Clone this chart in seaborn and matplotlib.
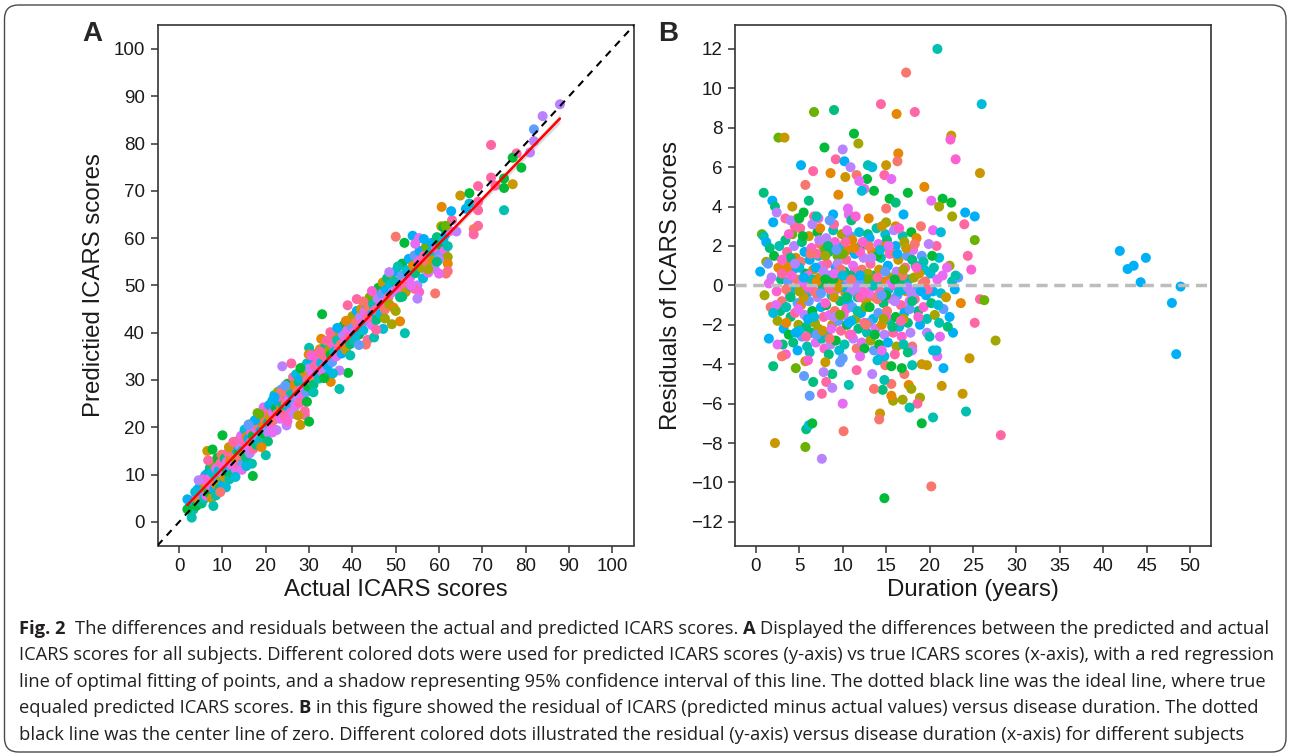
import matplotlib
matplotlib.use("Agg")
import matplotlib.pyplot as plt
import seaborn as sns
import pandas as pd
from matplotlib.patches import FancyBboxPatch
from matplotlib import font_manager

# ---------------- panel A: actual vs predicted ICARS ----------------
a_actual = [
    # low range
    2.5, 3.0, 3.3, 3.8, 4.0, 4.2, 4.5, 4.8, 5.0, 5.2, 5.4,
    5.5, 5.8, 6.0, 6.1, 6.3, 6.5, 6.6, 6.8, 7.0, 7.1, 7.3,
    7.5, 7.6, 7.8, 8.0, 8.1, 8.3, 8.5, 8.6, 8.8, 9.0, 9.1,
    9.3, 9.5, 9.6, 9.8, 10.0, 10.1, 10.3, 10.5, 10.6, 10.8, 11.0,
    11.1, 11.3, 11.5, 11.6, 11.8, 12.0, 12.1, 12.3, 12.5, 12.6, 12.8,
    13.0, 13.1, 13.3, 13.5, 13.6, 13.8, 14.0, 14.1, 14.3, 14.5, 14.6,
    14.8, 15.0, 15.1, 15.3, 15.5, 15.6, 15.8, 16.0, 16.1, 16.3, 16.5,
    16.6, 16.8, 17.0, 17.1, 17.3, 17.5, 17.6, 17.8, 18.0, 18.1, 18.3,
    18.5, 18.6, 18.8, 19.0, 19.1, 19.3, 19.5, 19.6, 19.8, 20.0,
    # 20-30
    20.3, 20.5, 20.6, 20.8, 21.0, 21.3, 21.5, 21.6, 21.8, 22.0,
    22.3, 22.5, 22.6, 22.8, 23.0, 23.3, 23.5, 23.6, 23.8, 24.0,
    24.3, 24.5, 24.6, 24.8, 25.0, 25.3, 25.5, 25.6, 25.8, 26.0,
    26.3, 26.5, 26.6, 26.8, 27.0, 27.3, 27.5, 27.6, 27.8, 28.0,
    28.3, 28.5, 28.6, 28.8, 29.0, 29.3, 29.5, 29.6, 29.8, 30.0,
    # 30-40
    30.3, 30.5, 30.8, 31.0, 31.3, 31.5, 31.8, 32.0, 32.3, 32.5,
    32.8, 33.0, 33.3, 33.5, 33.8, 34.0, 34.3, 34.5, 34.8, 35.0,
    35.3, 35.5, 35.8, 36.0, 36.3, 36.5, 36.8, 37.0, 37.3, 37.5,
    37.8, 38.0, 38.3, 38.5, 38.8, 39.0, 39.3, 39.5, 39.8, 40.0,
    # 40-50
    40.3, 40.5, 40.8, 41.0, 41.3, 41.5, 41.8, 42.0, 42.3, 42.5,
    42.8, 43.0, 43.3, 43.5, 43.8, 44.0, 44.3, 44.5, 44.8, 45.0,
    45.3, 45.5, 45.8, 46.0, 46.3, 46.5, 46.8, 47.0, 47.3, 47.5,
    47.8, 48.0, 48.3, 48.5, 48.8, 49.0, 49.3, 49.5, 49.8, 50.0,
    # 50-63
    50.5, 51.0, 51.3, 51.5, 52.0, 52.3, 52.5, 53.0, 53.3, 53.5,
    54.0, 54.3, 54.5, 55.0, 55.3, 55.5, 56.0, 56.3, 56.5, 57.0,
    57.3, 57.5, 58.0, 58.3, 58.5, 59.0, 59.3, 59.5, 60.0, 60.3,
    60.5, 61.0, 61.3, 61.5, 62.0, 62.0, 62.5, 63.0,
    # scattered / high points
    2.9, 1.9, 1.9, 3.7, 7.9, 17.0, 20.0, 10.0, 6.5, 7.7,
    6.7, 28.0, 29.0, 29.0, 30.0, 33.0, 37.0, 39.0, 37.0, 23.8,
    25.9, 30.0, 32.8, 34.9, 29.9, 34.8, 35.0, 38.9, 41.0, 40.7,
    43.1, 43.4, 45.0, 47.1, 49.1, 51.0, 50.0, 52.1, 50.0, 53.9,
    52.0, 55.4, 59.1, 54.3, 55.4, 55.0, 62.0, 62.0, 61.6, 60.0,
    60.0, 60.6, 64.9, 67.0, 62.8, 64.0, 61.0, 61.5, 66.2, 67.0,
    69.0, 69.0, 69.0, 69.0, 68.0, 68.0, 72.0, 72.0, 73.0, 75.0,
    75.0, 77.0, 75.0, 77.9, 77.0, 79.0, 81.0, 81.9, 81.9, 83.9, 87.9,
    # extra spread along the diagonal
    5.5, 8.5, 11.5, 14.5, 17.5, 20.5, 23.5, 26.5, 29.5, 32.5,
    35.5, 38.5, 41.5, 44.5, 47.5, 50.5, 53.5, 56.5, 59.5,
    4.5, 9.5, 12.5, 15.5, 18.5, 21.5, 24.5, 27.5, 30.5, 33.5,
    36.5, 39.5, 42.5, 45.5, 48.5, 51.5, 54.5, 57.5,
    13.0, 16.0, 19.0, 22.0, 25.0, 28.0, 31.0, 34.0,
]
a_predicted = [
    3.5, 4.2, 2.6, 5.0, 3.4, 6.8, 4.6, 7.5, 5.6, 3.9, 8.6,
    6.3, 4.9, 9.8, 7.2, 5.5, 10.2, 8.0, 6.2, 9.1, 11.4, 7.4,
    5.0, 10.5, 8.6, 12.0, 6.9, 9.7, 11.3, 7.8, 13.5, 9.2, 10.8,
    7.1, 12.4, 8.7, 14.2, 10.3, 8.0, 11.9, 13.4, 9.4, 7.3, 12.7,
    10.6, 14.6, 11.2, 9.0, 13.0, 15.5, 11.8, 10.2, 14.0, 12.6, 16.4,
    13.2, 11.0, 15.1, 17.1, 12.3, 14.6, 16.0, 13.4, 18.2, 15.0, 12.2,
    17.0, 14.3, 19.5, 16.5, 13.5, 18.0, 15.6, 17.6, 20.6, 14.5, 16.8,
    19.0, 12.3, 18.2, 15.4, 21.2, 17.3, 19.8, 16.3, 20.4, 23.0, 18.0,
    17.0, 21.6, 19.2, 22.4, 17.8, 20.8, 24.2, 18.6, 21.9, 19.6,
    23.3, 21.0, 18.8, 24.7, 22.2, 20.3, 25.6, 23.1, 21.5, 26.8,
    24.0, 19.4, 22.8, 27.5, 25.1, 21.8, 23.9, 28.0, 26.2, 24.7,
    22.5, 27.1, 25.3, 20.4, 29.2, 26.0, 24.0, 28.3, 23.2, 27.0,
    30.6, 25.8, 28.9, 24.4, 31.2, 27.6, 26.0, 29.6, 25.2, 30.3,
    28.0, 32.6, 26.8, 29.4, 31.5, 27.4, 33.5, 30.1, 28.6, 32.4,
    30.0, 34.5, 31.6, 29.0, 33.0, 35.5, 31.2, 34.0, 30.3, 36.5,
    33.6, 31.8, 35.2, 32.8, 37.3, 34.6, 33.0, 36.2, 38.2, 35.3,
    33.8, 37.6, 36.0, 39.4, 35.0, 38.4, 36.7, 40.8, 37.5, 35.6,
    39.6, 41.6, 38.2, 36.4, 40.5, 42.3, 39.1, 37.6, 41.2, 43.5,
    40.0, 38.3, 42.2, 44.6, 41.0, 39.6, 43.4, 45.0, 42.0, 40.5,
    44.5, 46.3, 42.6, 38.5, 45.3, 47.5, 43.7, 41.6, 46.0, 48.6,
    44.8, 42.7, 47.2, 49.5, 45.5, 44.0, 48.3, 50.6, 46.4, 44.9,
    49.1, 51.5, 47.5, 46.0, 50.2, 52.4, 48.6, 45.3, 50.8, 53.0,
    49.4, 47.5, 52.0, 54.6, 50.5, 48.6, 53.2, 55.6, 51.6, 49.8,
    54.2, 56.3, 52.6, 50.0, 55.1, 57.3, 53.7, 51.5, 56.2, 58.2,
    54.6, 52.7, 57.0, 59.0, 55.3, 53.5, 57.8, 60.2, 56.3, 58.6,
    62.5, 59.7, 57.4, 60.8, 58.3, 56.0, 61.5, 63.8,
    0.9, 2.65, 4.77, 6.3, 3.36, 9.7, 14.1, 18.3, 15.0, 15.3,
    13.0, 20.5, 23.4, 22.6, 21.2, 43.9, 28.1, 31.5, 32.0, 32.9,
    33.5, 36.8, 38.7, 40.1, 35.4, 31.3, 29.6, 45.8, 47.1, 39.4,
    37.5, 43.2, 39.0, 40.8, 41.8, 42.4, 44.6, 39.9, 60.3, 60.5,
    59.0, 60.0, 48.3, 49.3, 48.6, 47.2, 54.6, 53.0, 52.5, 55.5,
    52.5, 66.6, 69.0, 69.5, 65.7, 61.4, 62.3, 62.6, 66.2, 67.3,
    71.0, 67.7, 65.9, 62.6, 61.9, 60.8, 79.7, 72.8, 71.1, 72.6,
    70.6, 71.4, 65.9, 77.9, 77.0, 74.9, 78.1, 80.5, 83.0, 85.8, 88.3,
    9.0, 5.6, 15.8, 11.0, 21.5, 17.0, 27.3, 22.8, 25.4, 36.0,
    31.4, 42.5, 37.4, 48.8, 43.0, 54.0, 50.0, 59.8, 55.0,
    8.8, 6.3, 16.9, 11.8, 22.8, 18.9, 28.8, 22.5, 35.2, 30.4,
    41.0, 35.2, 46.6, 40.6, 52.8, 47.6, 58.8, 53.4,
    9.5, 20.5, 15.8, 26.4, 21.3, 32.5, 27.4, 38.3,
]
a_subject = [
    6, 9, 7, 12, 5, 8, 2, 9, 14, 6, 1,
    10, 7, 8, 3, 12, 9, 0, 5, 11, 6, 13,
    2, 8, 14, 4, 9, 7, 12, 1, 5, 10, 8,
    6, 14, 3, 0, 11, 9, 13, 6, 2, 8, 12,
    5, 14, 9, 7, 1, 10, 13, 6, 0, 11, 8,
    3, 12, 9, 2, 14, 5, 11, 0, 12, 7, 10,
    13, 4, 8, 14, 6, 1, 12, 9, 3, 11, 0,
    13, 7, 5, 14, 2, 10, 12, 6, 0, 4, 11,
    8, 14, 9, 13, 7, 1, 12, 5, 0, 10,
    14, 6, 11, 9, 2, 13, 8, 12, 0, 7,
    5, 11, 14, 3, 9, 12, 1, 10, 13, 6,
    14, 8, 0, 11, 5, 12, 9, 2, 13, 7,
    14, 10, 1, 12, 8, 0, 11, 6, 14, 9,
    12, 3, 13, 7, 2, 10, 8, 14, 5, 11,
    0, 9, 12, 6, 14, 1, 10, 13, 7, 2,
    8, 12, 0, 11, 6, 14, 9, 3, 12, 5,
    10, 13, 8, 1, 12, 7, 14, 6, 0, 9,
    11, 5, 13, 2, 12, 8, 14, 6, 10, 3,
    12, 7, 0, 9, 14, 5, 11, 2, 13, 8,
    12, 6, 10, 14, 0, 4, 9, 12, 7, 3,
    14, 6, 11, 5, 13, 8, 10, 2, 12, 0,
    9, 6, 14, 3, 8, 4, 11, 1, 7, 9,
    13, 6, 10, 5, 14, 2, 8, 9, 12, 7,
    1, 10, 6, 11, 13, 9, 3, 8, 14, 4,
    0, 12, 7, 9, 2, 11, 13, 6, 10, 5,
    3, 8, 12, 9, 7, 3, 13, 14,
    7, 5, 9, 8, 7, 5, 7, 5, 2, 5,
    14, 2, 14, 14, 5, 5, 7, 5, 11, 11,
    14, 7, 1, 14, 1, 9, 1, 14, 14, 8,
    0, 14, 7, 8, 3, 1, 3, 7, 0, 9,
    5, 12, 0, 14, 13, 11, 1, 14, 0, 11,
    12, 1, 2, 5, 9, 11, 5, 4, 9, 8,
    14, 14, 14, 14, 0, 14, 14, 14, 14, 5,
    5, 2, 7, 14, 5, 5, 11, 11, 10, 11, 11,
    13, 7, 2, 12, 9, 6, 0, 11, 5, 14,
    8, 1, 10, 13, 3, 7, 12, 9, 6,
    11, 0, 14, 8, 4, 12, 10, 2, 13, 5,
    9, 7, 0, 14, 11, 6, 12, 3,
    8, 10, 1, 9, 13, 5, 7, 14,
]

# ---------------- panel B: residuals vs disease duration ----------------
b_duration = [
    # high residuals
    20.9, 17.3, 26.0, 14.4, 16.2, 18.3, 6.7, 9.0, 2.6, 3.3,
    11.3, 11.8, 22.5, 22.4, 7.9, 10.0, 16.4, 16.3, 23.0, 9.2,
    10.2, 5.2, 12.9, 13.4, 6.6, 8.6, 10.9, 11.6, 15.0, 25.8,
    14.8, 15.6, 10.3, 12.8, 11.9, 5.7, 9.5, 13.6, 12.5, 12.2,
    19.4, 17.5, 0.9, 15.4, 16.1, 21.5, 22.5, 20.2, 21.1, 1.9,
    2.2, 6.1, 4.2, 15.0, 10.6, 8.9, 22.6, 24.1, 25.2, 24.0,
    2.4, 6.7, 7.2, 10.7, 4.8, 3.4, 16.1, 20.4, 21.3, 25.2,
    24.4, 22.3, 24.8, 20.8, 21.1, 0.5, 1.2, 0.7, 0.9,
    # low residuals
    1.7, 1.5, 2.0, 2.2, 5.7, 5.8, 6.1, 6.5, 7.6, 10.1,
    10.0, 14.8, 20.2, 28.2, 19.1, 20.4, 24.2, 23.8, 21.4, 24.6,
    27.6, 25.2, 25.8, 26.3, 21.6, 22.7, 21.2, 20.9, 20.4, 20.8,
    19.1, 19.7, 18.0, 18.9, 18.6, 17.7, 17.6, 17.9, 16.9, 15.8,
    15.6, 14.3, 14.2, 17.1, 16.8, 15.6, 14.6, 13.6, 14.8, 13.4,
    11.6, 10.7, 14.3, 14.9, 15.6, 7.6, 6.6, 8.1, 8.8, 6.2,
    5.55, 4.6, 3.45, 8.8, 7.8, 5.7, 9.7, 18.0, 14.8,
    # long duration
    41.9, 42.8, 43.5, 44.9, 44.3, 47.9, 48.4, 48.9,
    # dense core
    1.2, 1.6, 2.1, 2.6, 2.9, 1.8, 2.4, 3.0, 2.8, 2.5, 3.2,
    3.4, 3.6, 3.9, 3.3, 3.7, 3.9, 3.5, 4.0, 3.8, 3.1,
    4.2, 4.4, 4.6, 4.3, 4.7, 4.4, 4.8, 4.5, 4.9, 4.3, 4.8,
    5.1, 5.3, 5.6, 5.2, 5.7, 5.4, 5.9, 5.2, 5.6, 5.8, 5.3, 5.9,
    6.1, 6.4, 6.2, 6.6, 6.3, 6.7, 6.1, 6.5, 6.8, 6.4, 6.9, 6.2,
    7.1, 7.4, 7.2, 7.6, 7.3, 7.7, 7.1, 7.5, 7.8, 7.2, 7.6, 7.9, 7.4, 7.9,
    8.1, 8.4, 8.2, 8.6, 8.3, 8.7, 8.1, 8.5, 8.8, 8.2, 8.6, 8.9, 8.4,
    9.1, 9.4, 9.2, 9.6, 9.3, 9.7, 9.1, 9.5, 9.8, 9.2, 9.6, 9.9, 9.4,
    10.1, 10.4, 10.2, 10.6, 10.3, 10.7, 10.1, 10.5, 10.8, 10.2, 10.9, 10.6, 10.4,
    11.1, 11.4, 11.2, 11.6, 11.3, 11.7, 11.1, 11.5, 11.8, 11.2, 11.6, 11.9, 11.4,
    12.1, 12.4, 12.2, 12.6, 12.3, 12.7, 12.1, 12.5, 12.8, 12.2, 12.9, 12.6,
    13.1, 13.4, 13.2, 13.6, 13.3, 13.7, 13.1, 13.5, 13.8, 13.2, 13.6, 13.9,
    14.1, 14.4, 14.2, 14.6, 14.3, 14.7, 14.1, 14.5, 14.8, 14.2, 14.9,
    15.1, 15.4, 15.2, 15.6, 15.3, 15.7, 15.1, 15.5, 15.8, 15.2, 15.9,
    16.1, 16.4, 16.2, 16.6, 16.3, 16.7, 16.1, 16.5, 16.8, 16.2, 16.9,
    17.1, 17.4, 17.2, 17.6, 17.3, 17.7, 17.1, 17.5, 17.8, 17.9,
    18.1, 18.4, 18.2, 18.6, 18.3, 18.7, 18.9, 18.5, 19.1, 19.4, 19.2, 19.6, 19.3, 19.7, 19.9,
    20.1, 20.4, 20.2, 20.6, 20.9, 21.3, 21.6, 21.1, 21.9, 22.3, 22.6, 22.9, 23.3, 23.6, 22.1, 23.0,
    3.6, 4.1, 5.0, 5.5, 6.0, 6.9, 7.0, 7.8, 8.0, 8.9, 9.0, 9.8, 10.0, 10.9, 11.0,
    11.9, 12.0, 12.9, 13.0, 13.9, 14.0, 14.9, 15.0, 15.9, 16.0, 16.9, 17.0, 17.9, 18.8, 19.8,
    4.0, 4.9, 6.0, 7.0, 8.0, 9.0, 10.0, 11.0, 12.0, 13.0, 14.0, 15.0, 16.0, 17.0, 18.0,
    3.0, 5.0, 7.0, 9.0, 11.0, 13.0, 15.0, 17.0, 8.5, 10.5, 12.5, 14.5, 16.5, 6.5, 4.5,
    1.0, 1.4, 2.3, 2.7, 3.5, 3.8, 4.6, 5.4, 5.8, 6.3,
    6.7, 7.3, 7.7, 8.3, 8.7, 9.3, 9.7, 10.3, 10.7, 11.3,
    11.7, 12.3, 12.7, 13.3, 13.7, 14.3, 14.7, 15.3, 15.7, 16.3,
    16.7, 17.3, 17.7, 18.3, 18.7, 19.3, 19.7, 20.3, 21.0, 22.0,
    1.5, 2.0, 3.0, 3.5, 4.0, 4.5, 5.0, 5.5, 6.0, 6.5,
    7.0, 7.5, 8.0, 8.5, 9.0, 9.5, 10.0, 10.5, 11.0, 11.5,
    12.0, 12.5, 13.0, 13.5, 14.0, 14.5, 15.0, 15.5, 16.0, 16.5,
    17.0, 17.5, 18.0, 18.5, 19.0, 19.5, 20.5, 21.5,
    2.0, 3.0, 4.0, 5.0, 6.0, 7.0, 8.0, 9.0, 10.0, 11.0,
    12.0, 13.0, 14.0, 15.0, 16.0, 17.0, 18.0, 19.0, 20.0,
    2.5, 5.5, 8.5, 11.5, 14.5, 17.5,
]
b_residual = [
    12.0, 10.8, 9.2, 9.2, 8.7, 8.8, 8.8, 8.9, 7.5, 7.5,
    7.7, 7.2, 7.6, 7.4, 7.0, 6.9, 6.7, 6.3, 6.4, 6.4,
    6.3, 6.1, 6.1, 6.0, 5.8, 5.7, 6.0, 5.6, 6.1, 5.7,
    5.6, 5.4, 5.5, 5.4, 5.3, 5.1, 4.6, 4.8, 4.9, 4.8,
    5.0, 4.7, 4.7, 4.4, 4.2, 4.4, 4.2, 4.3, 4.0, 4.3,
    4.0, 4.3, 4.0, 3.9, 3.9, 3.6, 3.5, 3.7, 3.5, 3.1,
    3.7, 3.5, 3.4, 3.6, 3.4, 3.4, 3.0, 2.8, 2.7, 2.3,
    1.5, 1.0, 0.8, 2.0, 1.4, 0.7, 1.2, 2.6, 2.5,
    -1.1, -2.7, -4.1, -8.0, -8.2, -7.3, -7.1, -7.0, -8.8, -7.4,
    -6.0, -10.8, -10.2, -7.6, -7.0, -6.7, -6.4, -5.5, -5.1, -3.7,
    -2.8, -1.9, -0.7, -0.75, -4.2, -2.4, -2.6, -3.6, -3.3, -3.3,
    -4.0, -4.05, -4.05, -5.7, -6.0, -6.2, -5.05, -5.25, -5.8, -5.85,
    -5.6, -6.5, -6.8, -4.5, -4.2, -5.0, -5.3, -5.25, -4.8, -4.5,
    -4.3, -5.05, -3.7, -4.05, -4.1, -5.5, -4.9, -4.9, -5.2, -5.6,
    -4.6, -4.2, -3.5, -4.5, -4.4, -3.85, -3.9, -3.1, -3.6,
    1.75, 0.83, 1.0, 1.4, 0.16, -0.89, -3.49, -0.06,
    2.2, 1.9, 1.5, 0.9, 0.3, 0.4, -0.3, -0.8, -1.3, -1.8, -2.2,
    2.3, 1.7, 1.1, 0.7, 0.2, -0.5, -1.1, -1.6, -2.5, -3.0,
    2.6, 2.0, 1.4, 0.8, 0.3, -0.2, -0.9, -1.4, -2.0, -2.9, -3.3,
    2.9, 2.2, 1.7, 1.2, 0.6, 0.1, -0.4, -1.0, -1.5, -2.1, -2.6, -3.1,
    2.5, 1.9, 1.3, 0.8, 0.2, -0.3, -0.8, -1.3, -1.9, -2.4, -2.9, -3.4,
    2.7, 2.1, 1.5, 1.0, 0.4, -0.1, -0.6, -1.1, -1.6, -2.2, -2.7, -3.2, 2.9, 1.8,
    2.4, 1.7, 1.1, 0.5, 0.0, -0.5, -1.0, -1.5, -2.0, -2.5, -3.0, 2.8, -3.5,
    2.2, 1.5, 0.9, 0.3, -0.2, -0.8, -1.3, -1.8, -2.3, -2.8, -3.3, 2.6, 1.1,
    2.0, 1.3, 0.7, 0.1, -0.4, -0.9, -1.5, -2.0, -2.5, -3.0, 2.5, 1.8, -1.2,
    2.3, 1.6, 1.0, 0.4, -0.1, -0.6, -1.1, -1.7, -2.2, -2.7, -3.2, 2.7, 0.7,
    2.0, 1.4, 0.8, 0.2, -0.3, -0.8, -1.4, -1.9, -2.4, -2.9, 2.6, -1.1,
    2.4, 1.7, 1.1, 0.5, -0.1, -0.6, -1.1, -1.7, -2.2, -2.8, -3.3, 2.9,
    2.1, 1.4, 0.8, 0.2, -0.3, -0.9, -1.4, -2.0, -2.5, -3.0, 2.6,
    2.3, 1.6, 1.0, 0.4, -0.2, -0.7, -1.3, -1.8, -2.4, -2.9, 2.8,
    2.0, 1.3, 0.7, 0.1, -0.5, -1.0, -1.6, -2.1, -2.6, -3.1, 2.5,
    2.2, 1.5, 0.9, 0.3, -0.3, -0.8, -1.4, -1.9, -2.4, 2.7,
    1.8, 1.0, 0.4, -0.2, -0.7, -1.3, -2.0, 2.4, 1.5, 0.8, 0.1, -0.5, -1.1, -1.7, 2.1,
    0.6, -0.3, -0.9, -1.5, 0.3, -0.4, -1.2, -1.9, -0.6, -1.6, 0.2, -0.2, 0.4, -0.9, -2.1, 0.5,
    0.9, 0.5, 0.9, -0.6, 0.5, 0.9, -0.4, 0.7, -0.9, 0.3, -0.6, 0.8, -0.1, 0.5, -0.3,
    0.1, -0.6, 0.6, -0.4, 0.2, -0.7, 0.7, -0.5, 0.0, -0.8, 0.5, -0.2, -0.4, 0.6, -0.2,
    1.4, -1.2, -1.7, 1.6, 1.5, -1.6, 1.6, -1.8, 1.7, -1.9, 1.5, -1.6, 1.6, -1.7, 1.3,
    1.3, -2.3, -2.5, 2.0, -2.5, 2.0, 2.0, -3.0, -2.7, 2.8, -3.2, -3.3, 2.9, 3.1, 3.0,
    -0.5, 1.1, -1.0, 2.0, -1.9, 2.6, -2.4, 2.5, -2.6, 1.6,
    -1.6, 2.3, -2.3, 2.0, -2.2, 1.8, -1.5, 2.2, -1.9, 1.9,
    -1.3, 2.2, -2.0, 1.4, -2.5, 1.8, -1.7, 2.0, -2.1, 1.6,
    -1.8, 1.9, -1.2, 2.1, -1.6, 1.2, -2.4, 1.5, -1.0, 0.9,
    0.1, -1.4, 0.6, -0.2, -0.6, 1.1, -0.3, 0.4, -0.1, 0.3,
    0.2, -0.4, 0.3, -0.2, 0.6, -0.1, 0.5, -0.6, 0.3, -0.1,
    0.5, -0.4, 0.3, 0.0, 0.4, -0.5, 0.2, 0.1, 0.3, -0.3,
    0.8, -0.1, -0.8, 0.9, -0.3, 0.2, 0.9, 0.5,
    3.2, -3.6, 3.3, 3.4, -3.8, 3.5, -3.9, 3.1, -3.7, 3.3,
    -3.6, 3.4, -3.8, 3.2, -3.5, 3.6, -3.3, 3.0, -2.6,
    -3.0, 3.7, 3.3, 3.5, 3.0, -3.4,
]
b_subject = [
    7, 0, 8, 14, 1, 14, 4, 6, 4, 2,
    5, 3, 2, 13, 5, 11, 1, 0, 13, 14,
    9, 9, 7, 8, 14, 1, 11, 0, 2, 2,
    14, 12, 2, 5, 12, 0, 1, 5, 12, 8,
    1, 5, 6, 5, 6, 5, 5, 12, 3, 9,
    6, 6, 2, 0, 12, 9, 3, 9, 9, 14,
    11, 14, 12, 12, 3, 14, 1, 12, 8, 4,
    14, 3, 13, 14, 8, 9, 3, 4, 7,
    0, 9, 6, 2, 4, 6, 8, 5, 11, 0,
    12, 5, 0, 14, 5, 7, 7, 2, 2, 2,
    3, 14, 14, 4, 9, 9, 12, 12, 8, 8,
    2, 2, 7, 3, 14, 7, 1, 3, 3, 3,
    1, 2, 0, 0, 5, 0, 6, 0, 7, 11,
    14, 7, 9, 0, 5, 14, 6, 14, 11, 10,
    10, 4, 13, 6, 11, 2, 10, 0, 8,
    9, 9, 9, 9, 9, 9, 9, 9,
    9, 6, 5, 1, 6, 11, 13, 0, 6, 3, 9,
    6, 14, 0, 2, 10, 12, 7, 6, 5, 6,
    4, 11, 1, 9, 0, 8, 10, 14, 3, 6, 9,
    14, 6, 9, 0, 5, 12, 8, 1, 11, 6, 10, 7,
    2, 13, 9, 1, 7, 14, 10, 5, 3, 6, 12, 7,
    5, 0, 8, 12, 2, 6, 11, 9, 14, 3, 7, 13, 1, 4,
    11, 6, 14, 10, 0, 8, 5, 12, 2, 9, 11, 7, 6,
    13, 4, 9, 1, 12, 6, 0, 10, 14, 5, 8, 3, 11,
    8, 14, 6, 11, 2, 9, 12, 5, 0, 7, 10, 1, 13,
    1, 9, 12, 5, 14, 7, 10, 3, 6, 11, 0, 8, 13,
    5, 11, 0, 8, 13, 2, 9, 14, 7, 12, 6, 4,
    9, 1, 14, 6, 11, 0, 5, 8, 12, 3, 10, 7,
    12, 7, 2, 9, 14, 6, 10, 1, 11, 5, 8,
    6, 13, 9, 3, 8, 12, 0, 7, 14, 9, 11,
    9, 2, 11, 6, 10, 14, 5, 8, 13, 3, 7,
    3, 10, 14, 7, 1, 12, 9, 6, 11, 5,
    12, 8, 3, 10, 14, 6, 9, 1, 10, 8, 0, 9, 13, 7, 11,
    8, 9, 6, 3, 12, 8, 10, 7, 2, 9, 7, 9, 10, 1, 6, 7,
    1, 13, 8, 2, 12, 9, 0, 11, 13, 5, 2, 0, 9, 6, 11,
    10, 14, 3, 12, 8, 0, 10, 5, 13, 11, 0, 8, 11, 2, 14,
    6, 12, 9, 14, 3, 11, 4, 8, 13, 10, 5, 13, 0, 2, 6,
    13, 8, 10, 12, 13, 0, 1, 7, 0, 12, 5, 12, 13, 11, 14,
    3, 10, 12, 7, 1, 13, 9, 5, 14, 0,
    8, 11, 2, 6, 12, 10, 4, 14, 9, 1,
    7, 13, 0, 11, 5, 8, 3, 12, 6, 9,
    14, 2, 10, 0, 13, 7, 11, 5, 8, 12,
    12, 8, 14, 0, 6, 11, 3, 9, 13, 7,
    1, 10, 5, 14, 12, 2, 8, 6, 0, 11,
    9, 13, 4, 7, 14, 10, 1, 12, 5, 8,
    3, 11, 6, 13, 9, 0, 7, 12,
    9, 0, 11, 5, 13, 7, 2, 14, 10, 6,
    12, 1, 8, 3, 14, 9, 11, 0, 7,
    12, 5, 10, 13, 2, 6,
]

caption_lines = [
    [("Fig. 2", True), ("  ", False),
     ("The differences and residuals between the actual and predicted ICARS scores.", False),
     (" ", False), ("A", True), (" ", False),
     ("Displayed the differences between the predicted and actual", False)],
    [("ICARS scores for all subjects. Different colored dots were used for predicted ICARS scores "
      "(y-axis) vs true ICARS scores (x-axis), with a red regression", False)],
    [("line of optimal fitting of points, and a shadow representing 95% confidence interval of this "
      "line. The dotted black line was the ideal line, where true", False)],
    [("equaled predicted ICARS scores.", False), (" ", False), ("B", True), (" ", False),
     ("in this figure showed the residual of ICARS (predicted minus actual values) versus disease "
      "duration. The dotted", False)],
    [("black line was the center line of zero. Different colored dots illustrated the residual "
      "(y-axis) versus disease duration (x-axis) for different subjects", False)],
]

# ggplot-like hue colours, one per subject group
hue_colors = ["#F8766D", "#E58700", "#C99800", "#A3A500", "#6BB100", "#00BA38", "#00BF7D",
              "#00C0AF", "#00BCD8", "#00B0F6", "#619CFF", "#B983FF", "#E76BF3", "#FD61D1", "#FF67A4"]
pal = dict(enumerate(hue_colors))

dfA = pd.DataFrame({"actual": a_actual, "predicted": a_predicted, "subject": a_subject})
dfB = pd.DataFrame({"duration": b_duration, "residual": b_residual, "subject": b_subject})

sns.set_theme(style="ticks")
plt.rcParams["font.family"] = ["Liberation Sans", "DejaVu Sans"]
plt.rcParams["axes.edgecolor"] = "#333333"
plt.rcParams["axes.linewidth"] = 1.2

W, H = 1290, 756
fig = plt.figure(figsize=(W / 100, H / 100), dpi=100)
axA = fig.add_axes([157.5 / W, 1 - 545.5 / H, (634 - 157.5) / W, (545.5 - 25.3) / H])
axB = fig.add_axes([735 / W, 1 - 545.5 / H, (1211 - 735) / W, (545.5 - 25.3) / H])

# panel A
sns.scatterplot(data=dfA, x="actual", y="predicted", hue="subject", palette=pal,
                s=52, linewidth=0, legend=False, ax=axA, zorder=2)
sns.regplot(data=dfA, x="actual", y="predicted", scatter=False, ci=95, color="red",
            line_kws={"lw": 1.8, "zorder": 3}, ax=axA)
for coll in axA.collections[1:]:
    coll.set_facecolor("#999999")
    coll.set_alpha(0.35)
axA.plot([-5, 105], [-5, 105], color="black", lw=1.5, ls=(0, (3.5, 3)), zorder=4)
axA.set_xlim(-5, 105)
axA.set_ylim(-5, 105)
axA.set_xticks(range(0, 101, 10))
axA.set_yticks(range(0, 101, 10))
axA.set_xlabel("Actual ICARS scores", fontsize=17.3, labelpad=3, color="#1a1a1a")
axA.set_ylabel("Predictied ICARS scores", fontsize=17.3, labelpad=6, color="#1a1a1a")

# panel B
sns.scatterplot(data=dfB, x="duration", y="residual", hue="subject", palette=pal,
                s=52, linewidth=0, legend=False, ax=axB, zorder=2)
axB.axhline(0, color="#bdbdbd", lw=2.5, ls=(0, (3.2, 1.9)), zorder=3)
axB.set_xlim(-2.4, 52.4)
axB.set_ylim(-13.2, 13.2)
axB.set_xticks(range(0, 51, 5))
axB.set_yticks(range(-12, 13, 2))
axB.set_xlabel("Duration (years)", fontsize=17.3, labelpad=3, color="#1a1a1a")
axB.set_ylabel("Residuals of ICARS scores", fontsize=17.3, labelpad=6, color="#1a1a1a")

for ax in (axA, axB):
    ax.tick_params(axis="both", length=5, width=1.1, color="#333333", labelsize=13.5,
                   labelcolor="#1a1a1a", pad=4)
    for sp in ax.spines.values():
        sp.set_visible(True)

fig.text(92 / W, 1 - 34 / H, "A", fontsize=20, fontweight="bold", ha="center", va="center")
fig.text(668 / W, 1 - 34 / H, "B", fontsize=20, fontweight="bold", ha="center", va="center")

# rounded frame around the whole figure
frame = FancyBboxPatch((0.045, 0.04), 12.815, 7.47, boxstyle="round,pad=0,rounding_size=0.14",
                       transform=fig.dpi_scale_trans, fill=False, ec="#4a4a4a", lw=1.0)
fig.add_artist(frame)

# caption
names = {f.name for f in font_manager.fontManager.ttflist}
cap_font = "Liberation Sans Narrow" if "Liberation Sans Narrow" in names else "Open Sans"
renderer = fig.canvas.get_renderer()


def text_width(s, bold, size):
    t = fig.text(0, 0, s, fontsize=size, fontweight="bold" if bold else "normal", family=cap_font)
    w = t.get_window_extent(renderer).width
    t.remove()
    return w


def seg_width(s, bold, size):
    if s.strip() == "":
        return (text_width("n" + s + "n", bold, size) - text_width("nn", bold, size))
    return text_width(s, bold, size)


base = 12
w1 = sum(seg_width(s, b, base) for s, b in caption_lines[0])
cap_size = base * (1262 - 19) / w1
baselines = [634, 660, 687, 713, 740]
for parts, yb in zip(caption_lines, baselines):
    x = 19
    for s, b in parts:
        if s.strip():
            fig.text(x / W, 1 - yb / H, s, fontsize=cap_size, family=cap_font,
                     fontweight="bold" if b else "normal", color="#231f20",
                     ha="left", va="baseline")
        x += seg_width(s, b, cap_size)

fig.savefig("out.png", dpi=100)
